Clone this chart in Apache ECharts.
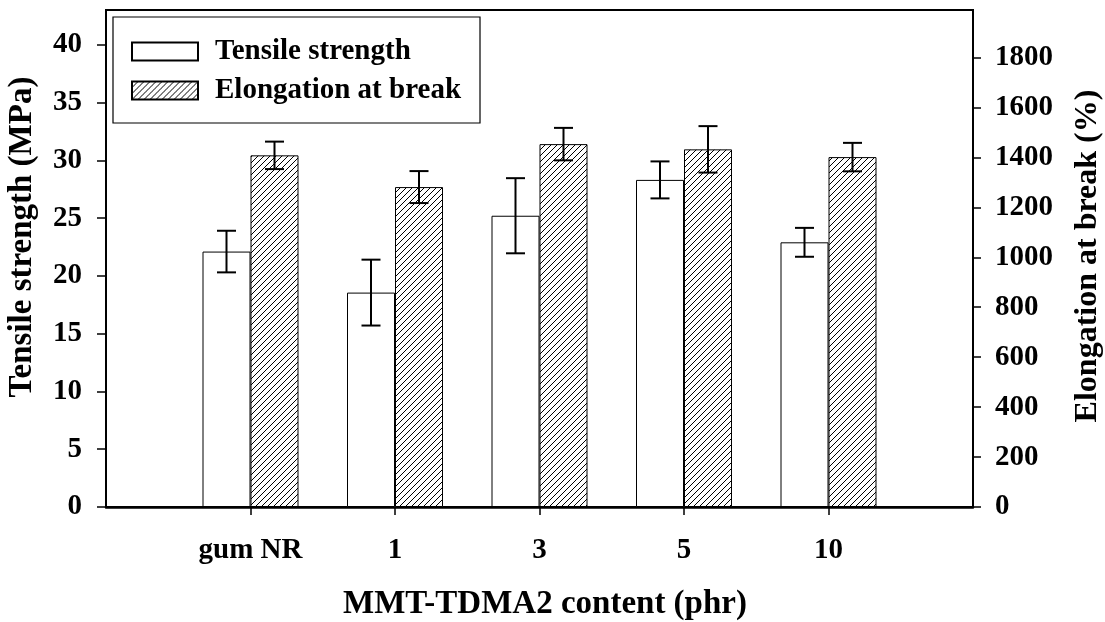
<!DOCTYPE html>
<html>
<head>
<meta charset="utf-8">
<script src="https://cdn.jsdelivr.net/npm/echarts@6/dist/echarts.min.js"></script>
<style>
  html, body { margin: 0; padding: 0; background: #fff; }
  #chart { width: 1105px; height: 622px; }
</style>
</head>
<body>
<div id="chart"></div>
<script>
// ---- data ----
const categories = ['', 'gum NR', '1', '3', '5', '10', ''];
const tensileValues = [22.1, 18.55, 25.2, 28.3, 22.9];
const tensileErrors = [1.8, 2.85, 3.25, 1.6, 1.25];
const elongationValues = [1408, 1281, 1453, 1432, 1401];
const elongationErrors = [55, 64, 65, 93, 57];
const leftTicks = [0, 5, 10, 15, 20, 25, 30, 35, 40];
const rightTicks = [0, 200, 400, 600, 800, 1000, 1200, 1400, 1600, 1800];

const FONT = 'Liberation Serif';

// hatch pattern
function makeHatch() {
  const s = 6;
  const c = document.createElement('canvas');
  c.width = s; c.height = s;
  const ctx = c.getContext('2d');
  ctx.fillStyle = '#fff';
  ctx.fillRect(0, 0, s, s);
  ctx.strokeStyle = '#000';
  ctx.lineWidth = 1;
  ctx.beginPath();
  ctx.moveTo(0, s); ctx.lineTo(s, 0);
  ctx.moveTo(-1, 1); ctx.lineTo(1, -1);
  ctx.moveTo(s - 1, s + 1); ctx.lineTo(s + 1, s - 1);
  ctx.stroke();
  return c;
}
const hatch = { image: makeHatch(), repeat: 'repeat' };

function padSeries(vals) { return ['-'].concat(vals).concat(['-']); }
function errData(vals, errs) {
  return vals.map((v, i) => [i + 1, v - errs[i], v + errs[i]]);
}
function errRender(offset) {
  return function (params, api) {
    const x = api.value(0);
    const lo = api.coord([x, api.value(1)]);
    const hi = api.coord([x, api.value(2)]);
    const cx = lo[0] + offset;
    const hw = 9.5;
    const st = { stroke: '#000', lineWidth: 2 };
    return {
      type: 'group',
      children: [
        { type: 'line', shape: { x1: cx, y1: hi[1], x2: cx, y2: lo[1] }, style: st },
        { type: 'line', shape: { x1: cx - hw, y1: hi[1], x2: cx + hw, y2: hi[1] }, style: st },
        { type: 'line', shape: { x1: cx - hw, y1: lo[1], x2: cx + hw, y2: lo[1] }, style: st }
      ]
    };
  };
}
const plain = function (v) { return String(v); };

const chart = echarts.init(document.getElementById('chart'), null, { renderer: 'canvas' });
const option = {
  animation: false,
  backgroundColor: '#fff',
  grid: {
    left: 106, right: 132, top: 10, bottom: 115,
    show: true, borderColor: '#000', borderWidth: 2, backgroundColor: 'transparent'
  },
  legend: {
    data: ['Tensile strength', 'Elongation at break'],
    orient: 'vertical',
    left: 113, top: 17,
    padding: [20, 19, 18, 18],
    icon: 'rect',
    itemWidth: 66, itemHeight: 18, itemGap: 10,
    borderColor: '#000', borderWidth: 1.2,
    textStyle: { fontFamily: FONT, fontWeight: 'bold', fontSize: 29, color: '#000', padding: [0, 0, 0, 12] },
    selectedMode: false
  },
  xAxis: {
    type: 'category',
    data: categories,
    boundaryGap: false,
    axisLine: { lineStyle: { color: '#000', width: 2.5 } },
    axisTick: { show: true, length: 8, inside: false, lineStyle: { color: '#000', width: 1.5 },
      interval: function (i) { return i > 0 && i < categories.length - 1; } },
    axisLabel: { interval: 0, margin: 29, fontFamily: FONT, fontWeight: 'bold', fontSize: 29, color: '#000' },
    splitLine: { show: false }
  },
  yAxis: [
    {
      type: 'value', min: 0, max: 43, position: 'left',
      axisLine: { show: true, lineStyle: { color: '#000', width: 2 } },
      axisTick: { show: true, length: 9, lineStyle: { color: '#000', width: 1.5 }, customValues: leftTicks },
      axisLabel: { margin: 24, fontFamily: FONT, fontWeight: 'bold', fontSize: 29, color: '#000', customValues: leftTicks, formatter: plain },
      splitLine: { show: false }
    },
    {
      type: 'value', min: 0, max: 1990, position: 'right',
      axisLine: { show: true, lineStyle: { color: '#000', width: 1.5 } },
      axisTick: { show: true, length: 8, lineStyle: { color: '#000', width: 1.5 }, customValues: rightTicks },
      axisLabel: { margin: 22, fontFamily: FONT, fontWeight: 'bold', fontSize: 29, color: '#000', customValues: rightTicks, formatter: plain },
      splitLine: { show: false }
    }
  ],
  series: [
    {
      name: 'Tensile strength', type: 'bar', yAxisIndex: 0,
      data: padSeries(tensileValues), barWidth: 48, barGap: '0%',
      itemStyle: { color: '#fff', borderColor: '#000', borderWidth: 1 }
    },
    {
      name: 'Elongation at break', type: 'bar', yAxisIndex: 1,
      data: padSeries(elongationValues), barWidth: 48, barGap: '0%',
      itemStyle: { color: hatch, borderColor: '#000', borderWidth: 1 }
    },
    {
      name: 'ts-err', type: 'custom', yAxisIndex: 0, z: 5,
      data: errData(tensileValues, tensileErrors), renderItem: errRender(-24)
    },
    {
      name: 'el-err', type: 'custom', yAxisIndex: 1, z: 5,
      data: errData(elongationValues, elongationErrors), renderItem: errRender(24)
    }
  ],
  graphic: [
    { type: 'text', x: 545, y: 604,
      style: { text: 'MMT-TDMA2 content (phr)', fontFamily: FONT, fontWeight: 'bold', fontSize: 33, fill: '#000', align: 'center', verticalAlign: 'middle' } },
    { type: 'text', x: 22, y: 237, rotation: Math.PI / 2,
      style: { text: 'Tensile strength (MPa)', fontFamily: FONT, fontWeight: 'bold', fontSize: 33, fill: '#000', align: 'center', verticalAlign: 'middle' } },
    { type: 'text', x: 1088, y: 256, rotation: Math.PI / 2,
      style: { text: 'Elongation at break (%)', fontFamily: FONT, fontWeight: 'bold', fontSize: 32, fill: '#000', align: 'center', verticalAlign: 'middle' } }
  ]
};
chart.setOption(option);
</script>
</body>
</html>
